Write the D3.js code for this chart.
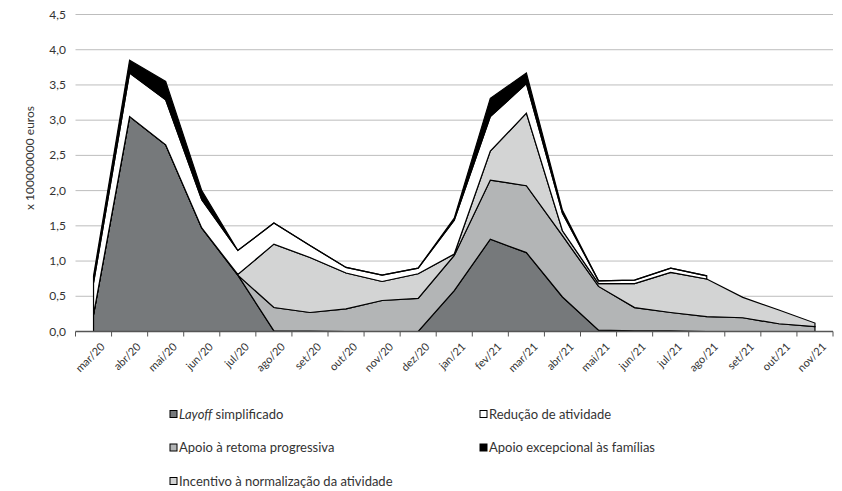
<!DOCTYPE html>
<html lang="pt">
<head>
<meta charset="UTF-8">
<title>Apoios ao emprego</title>
<script src="https://d3js.org/d3.v7.min.js"></script>
<style>
  body { margin: 0; background: #fff; font-family: Lato, "Open Sans", sans-serif; }
  svg text { fill: #333; }
</style>
</head>
<body>
<svg id="chart" width="842" height="491"></svg>
<script>
// months on the x axis
const months = ["mar/20","abr/20","mai/20","jun/20","jul/20","ago/20","set/20","out/20","nov/20","dez/20",
                "jan/21","fev/21","mar/21","abr/21","mai/21","jun/21","jul/21","ago/21","set/21","out/21","nov/21"];

// values in x 100000000 euros
const layoff      = [0.24, 3.05, 2.65, 1.47, 0.80, 0.01, 0.005, 0, 0, 0, 0.58, 1.31, 1.12, 0.49, 0.02, 0.01, 0.01, 0, 0, 0, 0];
const retoma      = [0, 0, 0, 0, 0, 0.33, 0.265, 0.32, 0.44, 0.47, 0.50, 0.84, 0.95, 0.87, 0.62, 0.33, 0.26, 0.21, 0.195, 0.11, 0.07];
const incentivo   = [0, 0, 0, 0, 0.01, 0.90, 0.78, 0.51, 0.27, 0.35, 0.02, 0.41, 1.03, 0.07, 0.04, 0.34, 0.57, 0.535, 0.29, 0.195, 0.05];
const reducao     = [0.45, 0.62, 0.64, 0.40, 0.34, 0.30, 0.17, 0.08, 0.09, 0.08, 0.48, 0.49, 0.42, 0.25, 0.04, 0.05, 0.06, 0.045, null, null, null];
const excepcional = [0.10, 0.18, 0.26, 0.13, 0, 0, 0, 0, 0, 0, 0.03, 0.26, 0.15, 0.04, 0, 0, 0, 0, null, null, null];

const yTicks = [0, 0.5, 1, 1.5, 2, 2.5, 3, 3.5, 4, 4.5];

// stacking order, bottom to top
const series = [
  { key: "layoff",      values: layoff,      fill: "#76797b" },
  { key: "retoma",      values: retoma,      fill: "#b3b5b6" },
  { key: "incentivo",   values: incentivo,   fill: "#d3d4d4" },
  { key: "reducao",     values: reducao,     fill: "#ffffff" },
  { key: "excepcional", values: excepcional, fill: "#000000" }
];

// legend, row by row
const legendItems = [
  { key: "layoff",      label: "simplificado", italic: "Layoff" },
  { key: "reducao",     label: "Redução de atividade" },
  { key: "retoma",      label: "Apoio à retoma progressiva" },
  { key: "excepcional", label: "Apoio excepcional às famílias" },
  { key: "incentivo",   label: "Incentivo à normalização da atividade" }
];

const svg = d3.select("#chart");
const plotLeft = 75.5, plotRight = 833, plotTop = 14.5, plotBottom = 331.5;

const x = d3.scaleBand().domain(months).range([plotLeft, plotRight]).padding(0);
const y = d3.scaleLinear().domain([0, 4.5]).range([plotBottom, plotTop]);
const cx = m => x(m) + x.bandwidth() / 2;

// gridlines + y labels
const fmt = d => d3.format(".1f")(d).replace(".", ",");
svg.append("g").selectAll("line")
  .data(yTicks.filter(d => d > 0))
  .enter().append("line")
  .attr("x1", plotLeft).attr("x2", plotRight)
  .attr("y1", d => y(d)).attr("y2", d => y(d))
  .attr("stroke", "#bdbdbd").attr("stroke-width", 1);

svg.append("g").selectAll("text")
  .data(yTicks)
  .enter().append("text")
  .attr("x", 66).attr("y", d => y(d) + 4)
  .attr("text-anchor", "end")
  .style("font-size", "12px")
  .text(fmt);

svg.append("text")
  .attr("transform", "translate(34,158) rotate(-90)")
  .attr("text-anchor", "middle")
  .style("font-size", "12px")
  .text("x 100000000 euros");

// stacked areas
const table = months.map((m, i) => {
  const row = { month: m };
  series.forEach(s => { row[s.key] = s.values[i]; });
  return row;
});
const stack = d3.stack()
  .keys(series.map(s => s.key))
  .value((d, k) => d[k] == null ? 0 : d[k]);
const layers = stack(table);

layers.forEach((layer, li) => {
  const s = series[li];
  const area = d3.area()
    .defined(d => d.data[s.key] != null)
    .x(d => cx(d.data.month))
    .y0(d => y(d[0]))
    .y1(d => y(d[1]));
  svg.append("path")
    .datum(layer)
    .attr("d", area)
    .attr("fill", s.fill)
    .attr("stroke", "#000")
    .attr("stroke-width", 1.2)
    .attr("stroke-linejoin", "miter");
});

// x axis
const boundaries = months.map(m => x(m)).concat([plotRight]);
svg.append("line")
  .attr("x1", plotLeft).attr("x2", plotRight)
  .attr("y1", plotBottom).attr("y2", plotBottom)
  .attr("stroke", "#555").attr("stroke-width", 1.5);
svg.append("g").selectAll("line")
  .data(boundaries)
  .enter().append("line")
  .attr("x1", d => d).attr("x2", d => d)
  .attr("y1", plotBottom).attr("y2", plotBottom + 5)
  .attr("stroke", "#555").attr("stroke-width", 1);

svg.append("g").selectAll("text")
  .data(months)
  .enter().append("text")
  .attr("transform", d => `translate(${cx(d) + 12},${plotBottom + 16}) rotate(-45)`)
  .attr("text-anchor", "end")
  .style("font-size", "11px")
  .text(d => d);

// legend
const fillOf = k => series.find(s => s.key === k).fill;
const legend = svg.append("g");
legendItems.forEach((it, i) => {
  const col = i % 2, row = Math.floor(i / 2);
  const lx = col === 0 ? 170 : 480, ly = 414 + row * 33.5;
  legend.append("rect")
    .attr("x", lx).attr("y", ly - 3.5)
    .attr("width", 7).attr("height", 7)
    .attr("fill", fillOf(it.key))
    .attr("stroke", "#000").attr("stroke-width", 1);
  const t = legend.append("text")
    .attr("x", lx + 9).attr("y", ly + 4.5)
    .style("font-size", "13px");
  if (it.italic) {
    t.append("tspan").style("font-style", "italic").text(it.italic);
    t.append("tspan").text(" " + it.label);
  } else {
    t.text(it.label);
  }
});
</script>
</body>
</html>
